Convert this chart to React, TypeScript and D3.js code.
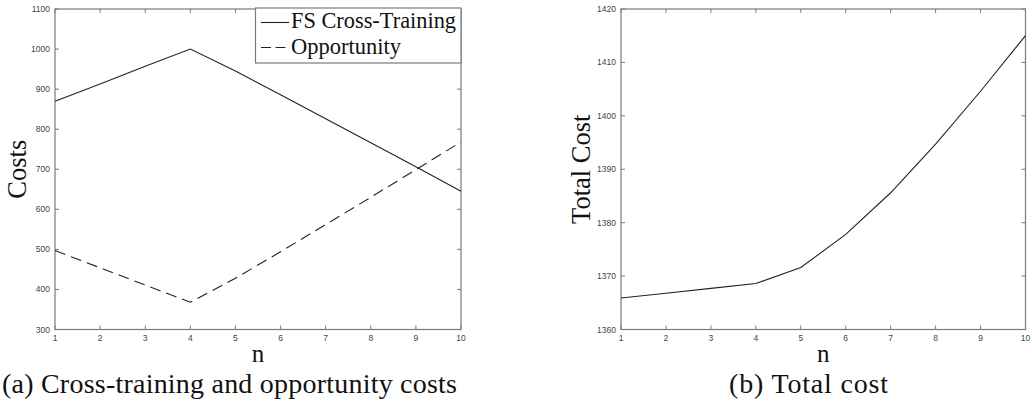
import React from "react";
import * as d3 from "d3";

// n = number of cross-trained staff
const nValues = [1, 2, 3, 4, 5, 6, 7, 8, 9, 10];
const fsCrossTraining = [870, 913, 957, 1000, 945, 886, 826, 766, 706, 645];
const opportunity = [497, 454, 411, 368, 428, 494, 562, 630, 699, 768];
const totalCost = [1365.9, 1366.8, 1367.7, 1368.6, 1371.6, 1377.8, 1385.6, 1394.7, 1404.6, 1415.0];

const costTicks = [300, 400, 500, 600, 700, 800, 900, 1000, 1100];
const totalTicks = [1360, 1370, 1380, 1390, 1400, 1410, 1420];
const legendLabels = ["FS Cross-Training", "Opportunity"];

const W = 1032;
const H = 402;
const TOP = 9;
const BOTTOM = 329.5;
const TICK = 4;
const AXIS = "#7a7a7a";
const INK = "#222";
const SERIF = "'Liberation Serif', 'Times New Roman', serif";
const SANS = "'Liberation Sans', Arial, Helvetica, sans-serif";

type PanelProps = {
  x: d3.ScaleLinear<number, number>;
  y: d3.ScaleLinear<number, number>;
  yTicks: number[];
  yLabel: string;
  yLabelX: number;
};

function Frame({ x, y, yTicks, yLabel, yLabelX }: PanelProps) {
  const [x0, x1] = x.range();
  const [y0, y1] = y.range();
  const cx = (x0 + x1) / 2;
  const cy = (y0 + y1) / 2;
  return (
    <g>
      {nValues.map((n) => (
        <g key={"xt" + n}>
          <line x1={x(n)} x2={x(n)} y1={y0} y2={y0 - TICK} stroke={AXIS} strokeWidth={1} />
          <line x1={x(n)} x2={x(n)} y1={y1} y2={y1 + TICK} stroke={AXIS} strokeWidth={1} />
          <text
            x={x(n)}
            y={y0 + 11}
            textAnchor="middle"
            fontFamily={SANS}
            fontSize={8.5}
            fill="#444"
          >
            {n}
          </text>
        </g>
      ))}
      {yTicks.map((t) => (
        <g key={"yt" + t}>
          <line x1={x0} x2={x0 + TICK} y1={y(t)} y2={y(t)} stroke={AXIS} strokeWidth={1} />
          <line x1={x1} x2={x1 - TICK} y1={y(t)} y2={y(t)} stroke={AXIS} strokeWidth={1} />
          <text
            x={x0 - 5}
            y={y(t) + 3}
            textAnchor="end"
            fontFamily={SANS}
            fontSize={8.5}
            fill="#444"
          >
            {t}
          </text>
        </g>
      ))}
      <rect
        x={x0}
        y={y1}
        width={x1 - x0}
        height={y0 - y1}
        fill="none"
        stroke={AXIS}
        strokeWidth={1.2}
      />
      <text
        x={cx}
        y={y0 + 32}
        textAnchor="middle"
        fontFamily={SERIF}
        fontSize={25}
        fill="#111"
      >
        n
      </text>
      <text
        transform={`translate(${yLabelX},${cy}) rotate(-90)`}
        textAnchor="middle"
        fontFamily={SERIF}
        fontSize={26.5}
        fill="#111"
      >
        {yLabel}
      </text>
    </g>
  );
}

export default function App() {
  const xA = d3.scaleLinear().domain([1, 10]).range([55, 461]);
  const yA = d3.scaleLinear().domain([300, 1100]).range([BOTTOM, TOP]);
  const xB = d3.scaleLinear().domain([1, 10]).range([621, 1025.5]);
  const yB = d3.scaleLinear().domain([1360, 1420]).range([BOTTOM, TOP]);

  const lineA = d3
    .line<number>()
    .x((_, i) => xA(nValues[i]))
    .y((v) => yA(v));
  const lineB = d3
    .line<number>()
    .x((_, i) => xB(nValues[i]))
    .y((v) => yB(v));

  const legX = 255.5;
  const legY = 8;
  const legW = 461 - legX;
  const legH = 55;

  return (
    <svg
      width={W}
      height={H}
      viewBox={`0 0 ${W} ${H}`}
      style={{ position: "absolute", left: 0, top: 0, background: "#fff" }}
    >
      {/* (a) cross-training and opportunity costs */}
      <Frame x={xA} y={yA} yTicks={costTicks} yLabel="Costs" yLabelX={25.5} />
      <path d={lineA(fsCrossTraining) ?? ""} fill="none" stroke={INK} strokeWidth={1.1} />
      <path
        d={lineA(opportunity) ?? ""}
        fill="none"
        stroke={INK}
        strokeWidth={1.1}
        strokeDasharray="11,6"
      />
      <g>
        <rect x={legX} y={legY} width={legW} height={legH} fill="#fff" stroke={AXIS} strokeWidth={1.2} />
        <line x1={261} x2={289} y1={22.5} y2={22.5} stroke={INK} strokeWidth={1.1} />
        <line
          x1={261}
          x2={289}
          y1={47.5}
          y2={47.5}
          stroke={INK}
          strokeWidth={1.1}
          strokeDasharray="10,4.5"
        />
        <text x={291} y={28} fontFamily={SERIF} fontSize={22.5} fill="#111" textLength={165} lengthAdjust="spacingAndGlyphs">
          {legendLabels[0]}
        </text>
        <text x={291} y={53.5} fontFamily={SERIF} fontSize={22.5} fill="#111">
          {legendLabels[1]}
        </text>
      </g>
      <text
        x={2}
        y={393}
        fontFamily={SERIF}
        fontSize={28}
        fill="#111"
        textLength={455}
        lengthAdjust="spacing"
      >
        (a) Cross-training and opportunity costs
      </text>

      {/* (b) total cost */}
      <Frame x={xB} y={yB} yTicks={totalTicks} yLabel="Total Cost" yLabelX={590} />
      <path d={lineB(totalCost) ?? ""} fill="none" stroke={INK} strokeWidth={1.1} />
      <text
        x={729}
        y={393}
        fontFamily={SERIF}
        fontSize={28}
        fill="#111"
        textLength={159}
        lengthAdjust="spacing"
      >
        (b) Total cost
      </text>
    </svg>
  );
}
